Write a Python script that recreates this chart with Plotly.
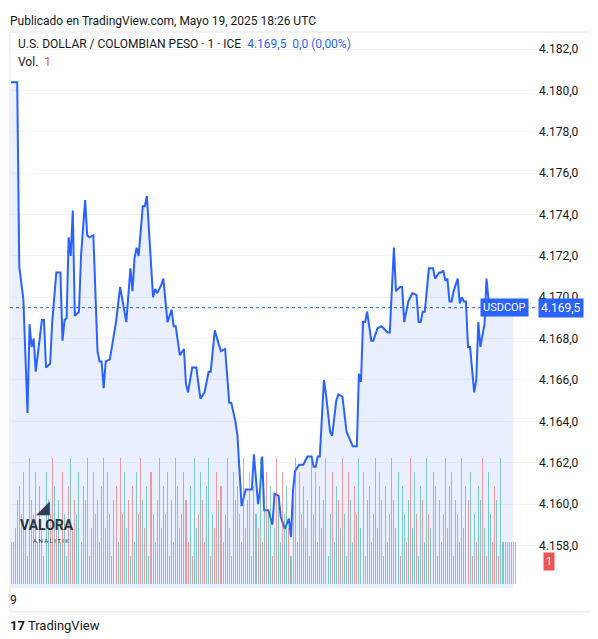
import plotly.graph_objects as go

# Price path: minute index, price (USD/COP)
minutes = [0,3,4,6,8,9,10,11,12,15,16,17,19,20,22,24,25,26,27,28,29,30,31,33,34,36,37,38,40,42,43,44,45,46,48,51,53,56,58,59,60,61,62,64,65,66,69,70,71,73,74,76,78,79,80,81,82,84,85,86,88,90,92,94,96,97,99,101,102,104,106,107,109,110,112,114,117,118,120,121,122,123,125,127,128,130,131,133,135,136,137,138,140,142,144,146,147,148,149,150,152,153,155,156,158,159,161,163,166,168,169,170,171,172,173,175,176,178,180,183,184,186,187,189,190,191,193,195,197,198,199,200,201,203,205,206,208,209,210,211,212,213,214,215,217,218,219,220,221,222,223,225,226,227,228,230,231,232,233,234,236,239,240,241,244,245,246,247,248,249,250]
prices = [4180.4,4180.4,4171.5,4169.9,4164.4,4168.7,4167.6,4168.0,4166.4,4168.9,4168.9,4166.6,4166.8,4168.8,4171.2,4171.2,4167.9,4168.9,4169.0,4172.9,4172.0,4174.2,4169.1,4169.3,4172.0,4174.7,4173.0,4172.9,4173.0,4167.4,4166.9,4166.9,4165.6,4166.9,4167.0,4168.8,4170.5,4168.8,4171.4,4170.3,4171.9,4172.4,4172.0,4174.4,4174.4,4174.9,4170.0,4170.4,4170.2,4170.6,4170.9,4168.8,4169.4,4168.6,4168.6,4167.8,4167.2,4167.5,4165.8,4165.4,4166.6,4166.6,4165.1,4165.4,4166.4,4166.4,4168.4,4167.7,4167.4,4167.5,4164.9,4164.9,4164.0,4163.3,4159.9,4160.7,4160.7,4162.4,4160.0,4160.7,4162.3,4159.7,4159.7,4159.0,4160.5,4160.4,4159.4,4158.8,4159.3,4158.4,4160.7,4161.6,4161.9,4161.9,4162.3,4162.3,4161.8,4161.8,4162.3,4162.3,4166.0,4165.3,4163.5,4163.3,4165.0,4165.3,4165.2,4163.5,4162.8,4162.8,4166.3,4165.9,4168.8,4168.8,4169.3,4167.9,4167.9,4168.5,4168.6,4168.3,4168.3,4172.4,4170.3,4170.5,4170.5,4168.8,4169.8,4170.2,4170.1,4168.8,4168.8,4169.3,4169.3,4171.4,4171.4,4170.9,4171.2,4171.2,4171.3,4170.8,4170.9,4169.8,4169.8,4170.3,4170.9,4169.7,4170.0,4169.8,4169.8,4167.6,4167.6,4165.4,4166.0,4168.8,4167.6,4168.7,4170.9,4169.8,4169.5,4169.5,4169.5,4169.5,4169.5,4169.5,4169.5]
n = min(len(minutes), len(prices))
minutes = minutes[:n]
prices = prices[:n]

volumes = [3,3,4,6,7,5,8,4,2,9,6,5,8,3,7,4,2,8,6,5,9,7,4,6,3,
           8,5,2,7,9,4,6,5,8,3,7,6,9,2,4,8,5,6,3,7,9,4,8,5,2,
           6,7,3,9,5,8,4,6,2,7,3,8,5,9,6,4,7,2,8,5,3,6,9,4,7,
           5,8,2,6,3,9,7,4,5,8,6,3,7,2,9,4,5,8,6,3,7,9,2,5,4,
           8,6,7,3,5,9,4,2,8,6,7,5,3,9,4,6,8,2,7,5,4,9,3,6,8,
           5,7,2,4,9,6,3,8,5,7,4,2,6,9,3,8,5,7,4,6,2,9,5,8,3,
           7,4,6,9,2,5,8,3,7,6,4,9,5,2,8,6,3,7,5,9,4,8,2,6,7,
           3,5,9,4,8,6,2,7,3,5,9,6,4,8,2,7,5,3,6,9,4,8,5,2,7,
           6,3,9,5,4,8,7,2,6,3,5,9,4,7,8,2,6,5,3,9,4,7,6,8,2,
           5,3,7,6,9,4,2,8,5,3,7,6,2,9,3,3,3,3,3,3,3]
vol_up = [0,0,1,0,1,1,0,1,0,1,0,1,1,0,1,0,0,1,1,0,0,1,0,1,1,
          0,1,1,0,1,0,0,1,1,0,1,0,0,1,1,0,1,0,1,1,0,0,1,0,1,
          1,0,1,0,0,1,1,0,1,0,1,1,0,0,1,0,1,1,0,1,0,0,1,1,0,
          1,0,1,1,0,0,1,0,1,1,0,0,1,0,1,1,0,1,0,0,1,1,0,1,0,
          0,1,0,0,1,1,0,1,0,0,1,0,1,1,0,1,0,0,1,1,0,1,0,1,0,
          1,1,0,1,0,1,1,0,1,1,0,1,0,1,1,0,1,1,0,0,1,1,0,1,1,
          0,1,1,0,1,1,0,1,1,0,1,0,1,1,0,1,1,0,0,1,1,0,1,1,0,
          1,0,1,1,0,1,0,1,1,0,1,1,0,1,0,1,1,0,1,0,1,1,0,1,1,
          0,1,1,0,1,1,0,1,1,0,1,0,1,1,0,1,0,1,1,0,1,1,0,1,0,
          1,0,1,1,0,1,0,1,1,0,0,1,0,1,1,0,0,0,0,1,1]
vol_minutes = list(range(len(volumes)))
vol_up = (vol_up + [1] * len(volumes))[:len(volumes)]

tick_vals = [4158,4160,4162,4164,4166,4168,4170,4172,4174,4176,4178,4180,4182]
tick_text = ["4.158,0","4.160,0","4.162,0","4.164,0","4.166,0","4.168,0","4.170,0","4.172,0","4.174,0","4.176,0","4.178,0","4.180,0","4.182,0"]
last_price = 4169.5

fig = go.Figure()
fig.add_trace(go.Bar(x=vol_minutes, y=volumes, yaxis="y2",
                     marker=dict(color=["rgba(38,166,154,0.55)" if u else "rgba(239,83,80,0.55)" for u in vol_up], line_width=0),
                     width=0.5, hoverinfo="skip"))
fig.add_trace(go.Scatter(x=minutes, y=prices, mode="lines", line=dict(color="#2962ff", width=2),
                         fill="tozeroy", fillcolor="rgba(41,98,255,0.10)"))

fig.update_layout(
    width=590, height=631, showlegend=False, plot_bgcolor="white", paper_bgcolor="white",
    margin=dict(l=2, r=60, t=24, b=51),
    font=dict(family="Roboto, DejaVu Sans", size=12, color="#131722"),
    bargap=0,
    xaxis=dict(range=[-0.5, 256], showgrid=False, zeroline=False, showticklabels=False, fixedrange=True),
    yaxis=dict(side="right", range=[4155.94, 4182.83], tickvals=tick_vals, ticktext=tick_text,
               gridcolor="#f0f3fa", zeroline=False, ticks="", tickfont=dict(size=12, color="#131722")),
    yaxis2=dict(overlaying="y", range=[-0.29, 39.4], visible=False),
    shapes=[
        dict(type="line", xref="paper", yref="y", x0=0, x1=1, y0=last_price, y1=last_price,
             line=dict(color="#2962ff", width=1, dash="dot")),
        dict(type="rect", xref="paper", yref="paper", x0=0, x1=1.111, y0=-0.043, y1=1.0,
             line=dict(color="#e0e3eb", width=1), fillcolor="rgba(0,0,0,0)", layer="below"),
    ],
    annotations=[
        dict(x=0, y=1.0, xref="paper", yref="paper", xanchor="left", yanchor="bottom", showarrow=False,
             text="Publicado en TradingView.com, Mayo 19, 2025 18:26 UTC", font=dict(size=12, color="#131722"),
             xshift=-2, yshift=2),
        dict(x=0, y=0.995, xref="paper", yref="paper", xanchor="left", yanchor="top", showarrow=False,
             text="U.S. DOLLAR / COLOMBIAN PESO · 1 · ICE  <span style='color:#2962ff'>4.169,5  0,0 (0,00%)</span>",
             font=dict(size=12), xshift=6),
        dict(x=0, y=0.962, xref="paper", yref="paper", xanchor="left", yanchor="top", showarrow=False,
             text="Vol.  <span style='color:#ef5350'>1</span>", font=dict(size=12), xshift=6),
        dict(x=1, y=last_price, xref="paper", yref="y", xanchor="right", showarrow=False, text="USDCOP",
             font=dict(size=11, color="white"), bgcolor="#2962ff", xshift=-9, borderpad=2),
        dict(x=1, y=last_price, xref="paper", yref="y", xanchor="left", showarrow=False, text="4.169,5",
             font=dict(size=12, color="white"), bgcolor="#2962ff", xshift=0, borderpad=2),
        dict(x=1, y=0.03, xref="paper", yref="paper", xanchor="left", showarrow=False, text="1",
             font=dict(size=11, color="white"), bgcolor="#ef5350", xshift=5, borderpad=2),
        dict(x=0, y=-0.005, xref="paper", yref="paper", xanchor="left", yanchor="top", showarrow=False,
             text="9", font=dict(size=12), xshift=-2),
        dict(x=0.015, y=0.095, xref="paper", yref="paper", xanchor="left", showarrow=False,
             text="<b>VALORA</b>", font=dict(size=14, color="#2c3440")),
        dict(x=0.04, y=0.075, xref="paper", yref="paper", xanchor="left", showarrow=False,
             text="A N A L I T I K", font=dict(size=6, color="#2c3440")),
        dict(x=0.045, y=0.125, xref="paper", yref="paper", xanchor="left", showarrow=False,
             text="◢", font=dict(size=18, color="#2c3e5c")),
        dict(x=0, y=-0.05, xref="paper", yref="paper", xanchor="left", yanchor="top", showarrow=False,
             text="<b>17</b> TradingView", font=dict(size=13, color="#131722"), xshift=-2),
    ],
)
fig.write_html("out.html")
